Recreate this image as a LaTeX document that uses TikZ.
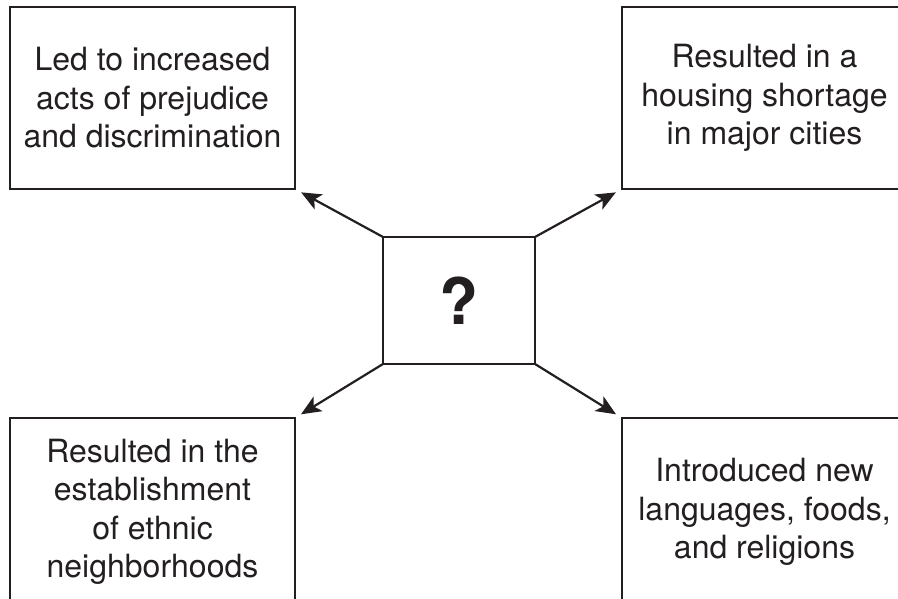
\documentclass[tikz,border=0pt]{standalone}
\usepackage{fontspec}
\setmainfont{TeX Gyre Heros}
\usepackage{tikz}
\usetikzlibrary{positioning, arrows.meta}
\usepackage{xcolor}
\definecolor{ink}{RGB}{35, 31, 32}

\tikzset{
  effectbox/.style={draw=ink, line width=2pt, outer sep=0pt, minimum width=285pt,
    minimum height=182pt, align=center, text=ink, font=\fontsize{32}{38.5}\selectfont},
  causebox/.style={draw=ink, line width=2pt, outer sep=0pt, minimum width=152pt,
    minimum height=127pt, text=ink, font=\fontsize{64}{70}\selectfont\bfseries},
  effectarrow/.style={->, draw=ink, line width=2.2pt, shorten >=7pt}
}

\begin{document}
\begin{tikzpicture}[x=1pt, y=1pt, >={Stealth[length=20pt, width=17pt, inset=5pt]}]
  \useasboundingbox (0,0) rectangle (898,599);
  \clip (0,0) rectangle (898,599);

  % Centre box
  \node[causebox] (cause) at (459,298.5) {?};

  % Outer boxes
  \node[effectbox] (prejudice) at (152.5,501)
    {Led to increased\\acts of prejudice\\and discrimination};
  \node[effectbox] (housing) at (764.5,501)
    {Resulted in a\\housing shortage\\in major cities};
  \node[effectbox, minimum height=188pt, anchor=north] (ethnic) at (152.5,181)
    {Resulted in the\\establishment\\of ethnic\\neighborhoods};
  \node[effectbox, minimum height=188pt, anchor=north] (culture) at (764.5,181)
    {Introduced new\\languages, foods,\\and religions};

  % Arrows
  \draw[effectarrow] (cause.north west) -- (prejudice.south east);
  \draw[effectarrow] (cause.north east) -- (housing.south west);
  \draw[effectarrow] (cause.south west) -- (ethnic.north east);
  \draw[effectarrow] (cause.south east) -- (culture.north west);
\end{tikzpicture}
\end{document}
